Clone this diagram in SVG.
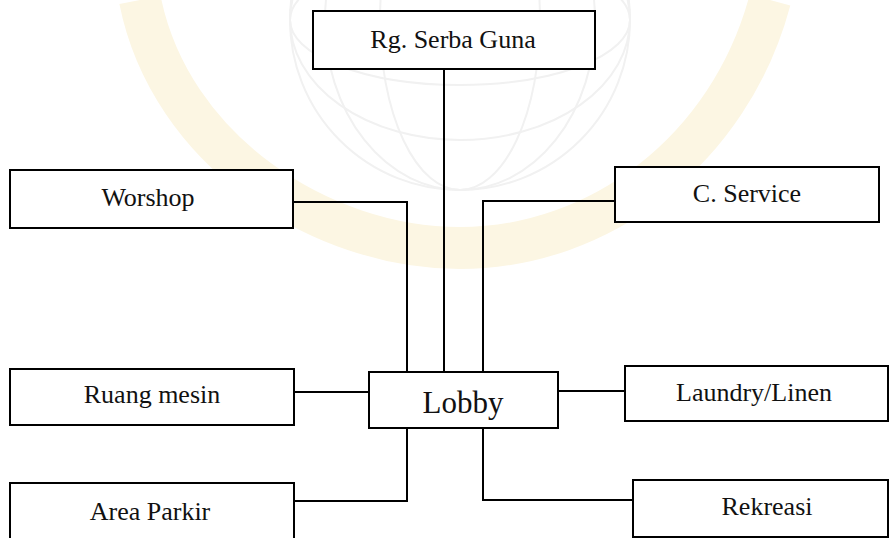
<svg xmlns="http://www.w3.org/2000/svg" width="890" height="538" viewBox="0 0 890 538">
<style>
.box{fill:#fff;stroke:#000;stroke-width:2}
.lbl{font-family:"Liberation Serif","Times New Roman",serif;font-size:26px;fill:#111;text-anchor:middle}
.big{font-size:31px}
.con{fill:none;stroke:#000;stroke-width:2}
.wm{fill:none;stroke:#f1f1f1;stroke-width:2}
</style>
<rect width="890" height="538" fill="#fff"/>
<g id="watermark">
<path d="M140 0 C170 150 320 248 460 248 C600 248 730 150 770 0" fill="none" stroke="#fcf6e3" stroke-width="42"/>
<circle class="wm" cx="460" cy="20" r="170"/>
<ellipse class="wm" cx="460" cy="20" rx="80" ry="170"/>
<ellipse class="wm" cx="460" cy="20" rx="135" ry="170"/>
<ellipse class="wm" cx="460" cy="20" rx="170" ry="65"/>
<ellipse class="wm" cx="460" cy="20" rx="170" ry="120"/>
</g>
<g id="connectors">
<path class="con" d="M444 69 V372"/>
<path class="con" d="M293 202 H407 V372"/>
<path class="con" d="M615 201 H483 V372"/>
<path class="con" d="M294 392 H369"/>
<path class="con" d="M558 391 H625"/>
<path class="con" d="M407 428 V501 H294"/>
<path class="con" d="M483 428 V500 H633"/>
</g>
<g id="rg-serba-guna"><rect class="box" x="313" y="11" width="282" height="58"/><text class="lbl" x="453" y="48">Rg. Serba Guna</text></g>
<g id="worshop"><rect class="box" x="10" y="170" width="283" height="58"/><text class="lbl" x="148" y="206">Worshop</text></g>
<g id="c-service"><rect class="box" x="615" y="167" width="264" height="55"/><text class="lbl" x="747" y="202">C. Service</text></g>
<g id="ruang-mesin"><rect class="box" x="10" y="369" width="284" height="56"/><text class="lbl" x="152" y="403">Ruang mesin</text></g>
<g id="lobby"><rect class="box" x="369" y="372" width="189" height="56"/><text class="lbl big" x="463" y="413">Lobby</text></g>
<g id="laundry-linen"><rect class="box" x="625" y="366" width="263" height="55"/><text class="lbl" x="754" y="401">Laundry/Linen</text></g>
<g id="area-parkir"><rect class="box" x="10" y="483" width="284" height="60"/><text class="lbl" x="150" y="520">Area Parkir</text></g>
<g id="rekreasi"><rect class="box" x="633" y="480" width="255" height="57"/><text class="lbl" x="767" y="515">Rekreasi</text></g>
</svg>
